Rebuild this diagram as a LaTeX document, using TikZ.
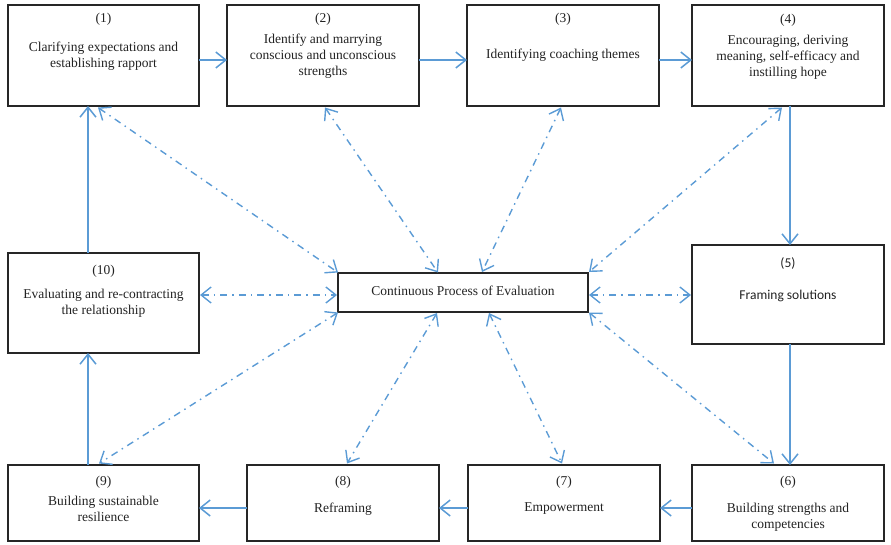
\documentclass[tikz,border=0pt]{standalone}
\usepackage{fontspec}
\setmainfont{Liberation Serif}
\newfontfamily\calibrifont{Carlito}
\usetikzlibrary{arrows.meta,calc}
\definecolor{flowblue}{HTML}{5B9BD5}
\definecolor{inkgray}{HTML}{222222}
\begin{document}
\begin{tikzpicture}[x=1pt,y=-1pt,
  stage/.style={draw=black!85, line width=1.1pt, rectangle, inner sep=0pt, outer sep=0pt,
                minimum width=192pt, minimum height=101pt},
  lbl/.style={inner sep=0pt, text=inkgray, font=\fontsize{13.5}{16}\selectfont, align=center},
  flow/.style={draw=flowblue, line width=1.5pt, -{Straight Barb[length=10pt,width=16pt]}},
  evalline/.style={draw=flowblue, line width=1.4pt, dash pattern=on 7pt off 5pt on 1.5pt off 5pt,
                {Straight Barb[length=10pt,width=16pt]}-{Straight Barb[length=10pt,width=16pt]}}
]
\useasboundingbox (0,0) rectangle (891,545);

% stage boxes
\node[stage, minimum width=191pt] (b1) at (103.5,55.5) {};
\node[stage] (b2) at (323,55.5) {};
\node[stage] (b3) at (563,55.5) {};
\node[stage] (b4) at (788,55.5) {};
\node[stage, minimum height=99pt] (b5) at (788,294.5) {};
\node[stage, minimum height=76pt] (b6) at (788,503) {};
\node[stage, minimum height=76pt] (b7) at (564,503) {};
\node[stage, minimum height=76pt] (b8) at (343,503) {};
\node[stage, minimum width=191pt, minimum height=76pt] (b9) at (103.5,503) {};
\node[stage, minimum width=191pt, minimum height=100pt] (b10) at (103.5,303) {};
\node[stage, minimum width=250pt, minimum height=39pt] (c) at (463,292.5) {};

% box texts
\node[lbl] (n1) at (103.5,19) {(1)};
\node[lbl] (t1) at (103.5,56) {Clarifying expectations and\\establishing rapport};
\node[lbl] (n2) at (323,19) {(2)};
\node[lbl] (t2) at (323,56) {Identify and marrying\\conscious and unconscious\\strengths};
\node[lbl] (n3) at (563,19) {(3)};
\node[lbl] (t3) at (563,55) {Identifying coaching themes};
\node[lbl] (n4) at (788,20) {(4)};
\node[lbl] (t4) at (788,57) {Encouraging, deriving\\meaning, self-efficacy and\\instilling hope};
\node[lbl, font=\calibrifont\fontsize{13.5}{16}\selectfont] (n5) at (788,263) {(5)};
\node[lbl, font=\calibrifont\fontsize{13.5}{16}\selectfont] (t5) at (788,296) {Framing solutions};
\node[lbl] (n6) at (788,482) {(6)};
\node[lbl] (t6) at (788,517) {Building strengths and\\competencies};
\node[lbl] (n7) at (564,482) {(7)};
\node[lbl] (t7) at (564,509) {Empowerment};
\node[lbl] (n8) at (343,482) {(8)};
\node[lbl] (t8) at (343,509) {Reframing};
\node[lbl] (n9) at (103.5,482) {(9)};
\node[lbl] (t9) at (103.5,509) {Building sustainable\\resilience};
\node[lbl] (n10) at (103.5,271) {(10)};
\node[lbl] (t10) at (103.5,303) {Evaluating and re-contracting\\the relationship};
\node[lbl] (tc) at (463,291) {Continuous Process of Evaluation};

% main cycle
\draw[flow] ($(b1.east)+(0,4.5)$) -- ($(b2.west)+(0,4.5)$);
\draw[flow] ($(b2.east)+(0,4.5)$) -- ($(b3.west)+(0,4.5)$);
\draw[flow] ($(b3.east)+(0,4.5)$) -- ($(b4.west)+(0,4.5)$);
\draw[flow] ($(b4.south)+(2,0)$) -- ($(b5.north)+(2,0)$);
\draw[flow] ($(b5.south)+(2,0)$) -- ($(b6.north)+(2,0)$);
\draw[flow] ($(b6.west)+(0,5)$) -- ($(b7.east)+(0,5)$);
\draw[flow] ($(b7.west)+(0,5)$) -- ($(b8.east)+(0,5)$);
\draw[flow] ($(b8.west)+(0,5)$) -- ($(b9.east)+(0,5)$);
\draw[flow] ($(b9.north west)+(80,0)$) -- ($(b10.south west)+(80,0)$);
\draw[flow] ($(b10.north west)+(80,0)$) -- ($(b1.south west)+(80,0)$);

% links to the evaluation process
\draw[evalline] ($(b1.south west)+(90,1.5)$) -- ($(c.north west)+(0,-0.5)$);
\draw[evalline] ($(b2.south west)+(98,1.5)$) -- ($(c.north west)+(100,-0.5)$);
\draw[evalline] ($(b3.south west)+(94,1.5)$) -- ($(c.north west)+(144,-1)$);
\draw[evalline] ($(b4.south west)+(90,1.5)$) -- ($(c.north east)+(1,-1)$);
\draw[evalline] ($(b10.east)+(1,-8)$) -- ($(c.west)+(-1,2.5)$);
\draw[evalline] ($(c.east)+(1,2.5)$) -- ($(b5.west)+(-1,0.5)$);
\draw[evalline] ($(c.south west)+(0,0.5)$) -- ($(b9.north west)+(91,-1.5)$);
\draw[evalline] ($(c.south west)+(99,1)$) -- ($(b8.north west)+(100,-1.5)$);
\draw[evalline] ($(c.south west)+(151,1)$) -- ($(b7.north west)+(94,-1.5)$);
\draw[evalline] ($(c.south east)+(1,0.5)$) -- ($(b6.north west)+(82,-1.5)$);
\end{tikzpicture}
\end{document}
